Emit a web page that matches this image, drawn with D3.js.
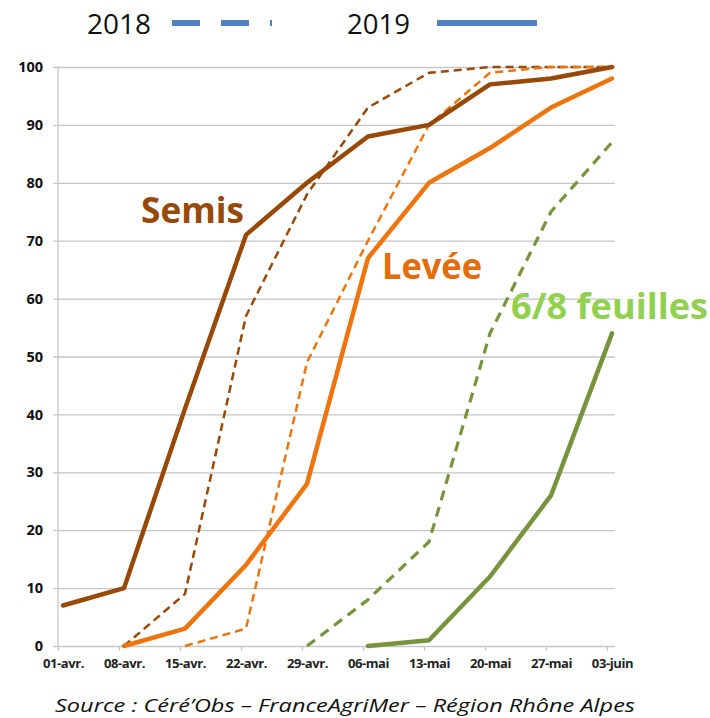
<!DOCTYPE html>
<html><head><meta charset="utf-8">
<script src="https://cdn.jsdelivr.net/npm/d3@7"></script>
<style>body{margin:0;background:#fff}svg{display:block}</style>
</head><body>
<svg id="c" width="710" height="718"></svg>
<script>
const categories = ["01-avr.","08-avr.","15-avr.","22-avr.","29-avr.","06-mai","13-mai","20-mai","27-mai","03-juin"];
const yTicks = [0,10,20,30,40,50,60,70,80,90,100];
const semis2019 = [7,10,41,71,80,88,90,97,98,100];
const semis2018 = [null,0,9,57,78,93,99,100,100,100];
const levee2019 = [null,0,3,14,28,67,80,86,93,98];
const levee2018 = [null,null,0,3,49,70,90,99,100,100];
const feuilles2019 = [null,null,null,null,null,0,1,12,26,54];
const feuilles2018 = [null,null,null,null,0,8,18,54,75,87];
const legendYears = ["2018","2019"];
const groupLabels = ["Semis","Levée","6/8 feuilles"];
const sourceText = "Source : Céré’Obs – FranceAgriMer – Région Rhône Alpes";

const svg = d3.select("#c");
const x = d3.scalePoint().domain(categories).range([63, 612]);
const y = d3.scaleLinear().domain([0,100]).range([646, 67]);
const gridColor = "#c6c6c6";

// gridlines
const gy = svg.append("g").attr("transform","translate(58,0)")
  .call(d3.axisLeft(y).tickValues(yTicks).tickSize(-557).tickSizeOuter(0).tickPadding(10));
gy.select(".domain").remove();
gy.selectAll(".tick line").attr("stroke",gridColor).attr("stroke-width",1.3).attr("x1",-5);
gy.selectAll(".tick text").attr("font-family","'Open Sans',sans-serif").attr("font-weight","bold")
  .attr("font-size",14.5).attr("fill","#111").attr("x",-15);
// left axis line
svg.append("line").attr("x1",58).attr("x2",58).attr("y1",67).attr("y2",646)
  .attr("stroke",gridColor).attr("stroke-width",1.3);

// x axis
const gx = svg.append("g").attr("transform","translate(0,646)")
  .call(d3.axisBottom(x).tickSize(5).tickSizeOuter(0).tickPadding(8));
gx.select(".domain").remove();
gx.selectAll(".tick line").attr("stroke",gridColor).attr("stroke-width",1.3).attr("transform","translate(-5,0)");
gx.selectAll(".tick text").attr("font-family","'Open Sans',sans-serif").attr("font-weight","bold")
  .attr("font-size",13).attr("fill","#222").attr("letter-spacing","-0.4");

const line = d3.line().defined(d=>d!=null).x((d,i)=>x(categories[i])).y(d=>y(d));
function drawLine(data, color, width, dash){
  svg.append("path").datum(data).attr("d", line).attr("fill","none")
    .attr("stroke",color).attr("stroke-width",width)
    .attr("stroke-linejoin","round").attr("stroke-linecap", dash ? "butt" : "round")
    .attr("stroke-dasharray", dash || null);
}
const brown = "#984807", orange = "#EE750E", green = "#77933C";
drawLine(semis2018, brown, 2.5, "8,5");
drawLine(levee2018, orange, 2.5, "8,5");
drawLine(feuilles2018, green, 3.2, "10,7");
drawLine(semis2019, brown, 4.5);
drawLine(levee2019, orange, 4.5);
drawLine(feuilles2019, green, 4.5);

// group labels
const lab = [
  {t:groupLabels[0], x:141, y:223, c:"#984807", w:103},
  {t:groupLabels[1], x:382, y:279, c:"#E46C0A", w:100},
  {t:groupLabels[2], x:511, y:319, c:"#92D050", w:197}
];
lab.forEach(l=>{
  svg.append("text").attr("x",l.x).attr("y",l.y).text(l.t)
    .attr("font-family","'Open Sans',sans-serif").attr("font-weight","bold")
    .attr("font-size",35).attr("fill",l.c)
    .attr("textLength",l.w).attr("lengthAdjust","spacingAndGlyphs");
});

// legend
const blue = "#4F81BD";
svg.append("text").attr("x",87).attr("y",34).text(legendYears[0])
  .attr("font-family","'Open Sans',sans-serif").attr("font-size",28).attr("fill","#111")
  .attr("textLength",64).attr("lengthAdjust","spacingAndGlyphs");
svg.append("line").attr("x1",172).attr("x2",272).attr("y1",23).attr("y2",23)
  .attr("stroke",blue).attr("stroke-width",6).attr("stroke-dasharray","28,21");
svg.append("text").attr("x",347).attr("y",34).text(legendYears[1])
  .attr("font-family","'Open Sans',sans-serif").attr("font-size",28).attr("fill","#111")
  .attr("textLength",63).attr("lengthAdjust","spacingAndGlyphs");
svg.append("line").attr("x1",437).attr("x2",537).attr("y1",23).attr("y2",23)
  .attr("stroke",blue).attr("stroke-width",6);

// source
svg.append("text").attr("x",55).attr("y",712).text(sourceText)
  .attr("font-family","'Open Sans',sans-serif").attr("font-style","italic").attr("font-size",19)
  .attr("fill","#111").attr("textLength",580).attr("lengthAdjust","spacingAndGlyphs");
</script>
</body></html>
